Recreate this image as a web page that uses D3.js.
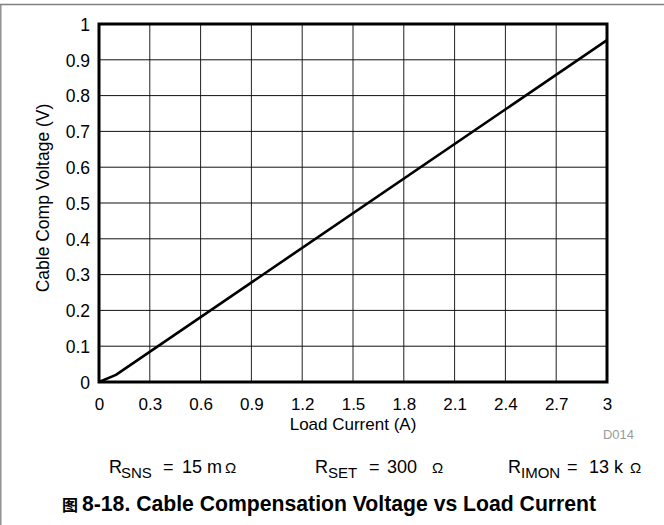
<!DOCTYPE html>
<html>
<head>
<meta charset="utf-8">
<script src="https://cdn.jsdelivr.net/npm/d3@7"></script>
<style>
  html, body { margin: 0; padding: 0; background: #fff; }
  svg { display: block; }
  text { font-family: "Liberation Sans", Arial, sans-serif; fill: #000; }
</style>
</head>
<body>
<svg id="chart" width="664" height="525"></svg>
<script>
// ---- data ----
const loadCurrent = [0, 0.1, 3];            // A
const compVoltage = [0, 0.02, 0.955];       // V
const xTicks = [0, 0.3, 0.6, 0.9, 1.2, 1.5, 1.8, 2.1, 2.4, 2.7, 3];
const yTicks = [0, 0.1, 0.2, 0.3, 0.4, 0.5, 0.6, 0.7, 0.8, 0.9, 1];
const xTitle = "Load Current (A)";
const yTitle = "Cable Comp Voltage (V)";
const figId = "D014";
const condMain = ["R", "R", "R"];
const condSub = ["SNS", "SET", "IMON"];
const condValue = ["15 m", "300", "13 k"];
const condUnit = ["Ω", "Ω", "Ω"];
const captionPrefix = "图";
const caption = "8-18. Cable Compensation Voltage vs Load Current";

// ---- layout ----
const svg = d3.select("#chart");
const W = 664, H = 525;
const plot = { left: 99, right: 607, top: 24, bottom: 382 };

const x = d3.scaleLinear().domain([0, 3]).range([plot.left, plot.right]);
const y = d3.scaleLinear().domain([0, 1]).range([plot.bottom, plot.top]);

// outer frame lines (top and left)
svg.append("line").attr("x1", 0).attr("x2", W).attr("y1", 4.5).attr("y2", 4.5)
  .attr("stroke", "#808080").attr("stroke-width", 1.3);
svg.append("line").attr("x1", 0.8).attr("x2", 0.8).attr("y1", 4).attr("y2", H)
  .attr("stroke", "#808080").attr("stroke-width", 1.3);

// grid
const grid = svg.append("g");
grid.selectAll(".vg").data(xTicks.slice(1, -1)).enter().append("line")
  .attr("x1", d => x(d)).attr("x2", d => x(d))
  .attr("y1", plot.top).attr("y2", plot.bottom)
  .attr("stroke", "#222").attr("stroke-width", 1);
grid.selectAll(".hg").data(yTicks.slice(1, -1)).enter().append("line")
  .attr("x1", plot.left).attr("x2", plot.right)
  .attr("y1", d => y(d)).attr("y2", d => y(d))
  .attr("stroke", "#111").attr("stroke-width", 1);

// axes (labels only)
const fmt = d => String(+d.toFixed(1));
const xAxis = d3.axisBottom(x).tickValues(xTicks).tickSize(0).tickPadding(0).tickFormat(fmt);
const gx = svg.append("g").attr("transform", `translate(0,${plot.bottom})`).call(xAxis);
gx.select(".domain").remove();
gx.selectAll("text").attr("font-size", 17).attr("font-family", "Liberation Sans, Arial, sans-serif")
  .attr("dy", null).attr("y", 28).attr("fill", "#000");

const yAxis = d3.axisLeft(y).tickValues(yTicks).tickSize(0).tickPadding(0).tickFormat(fmt);
const gy = svg.append("g").attr("transform", `translate(${plot.left},0)`).call(yAxis);
gy.select(".domain").remove();
gy.selectAll("text").attr("font-size", 17.5).attr("font-family", "Liberation Sans, Arial, sans-serif")
  .attr("x", -9).attr("dy", "0.36em").attr("fill", "#000");

// data line
const pts = loadCurrent.map((c, i) => [c, compVoltage[i]]);
svg.append("path").datum(pts)
  .attr("d", d3.line().x(d => x(d[0])).y(d => y(d[1])))
  .attr("fill", "none").attr("stroke", "#000").attr("stroke-width", 2.6)
  .attr("stroke-linejoin", "round");

// plot frame
svg.append("rect").attr("x", plot.left).attr("y", plot.top)
  .attr("width", plot.right - plot.left).attr("height", plot.bottom - plot.top)
  .attr("fill", "none").attr("stroke", "#000").attr("stroke-width", 3);

// axis titles
svg.append("text").attr("x", (plot.left + plot.right) / 2).attr("y", 430)
  .attr("text-anchor", "middle").attr("font-size", 17).text(xTitle);
svg.append("text").attr("transform", "translate(49,198) rotate(-90)")
  .attr("text-anchor", "middle").attr("font-size", 17.5).text(yTitle);

// figure id
svg.append("text").attr("x", 634).attr("y", 439).attr("text-anchor", "end")
  .attr("font-size", 13).style("fill", "#9a9a9a").text(figId);

// conditions (segment x positions)
const condPos = [
  { r: 109, s: 121, eq: 163, v: 182, u: 225 },
  { r: 315, s: 328, eq: 369, v: 387, u: 432 },
  { r: 508, s: 521, eq: 567, v: 589, u: 630 }
];
condMain.forEach((m, i) => {
  const p = condPos[i];
  const t = svg.append("text").attr("y", 473).attr("font-size", 18);
  t.append("tspan").attr("x", p.r).text(m);
  t.append("tspan").attr("x", p.s).attr("font-size", 15).attr("dy", 5).text(condSub[i]);
  t.append("tspan").attr("x", p.eq).attr("dy", -5).text("=");
  t.append("tspan").attr("x", p.v).text(condValue[i]);
  t.append("tspan").attr("x", p.u).attr("font-size", 15).text(condUnit[i]);
});

// caption
svg.append("text").attr("x", 62).attr("y", 511).attr("font-size", 16)
  .attr("font-weight", "bold")
  .style("font-family", "'Noto Sans CJK SC', sans-serif").text(captionPrefix);
svg.append("text").attr("x", 82).attr("y", 511).attr("font-size", 21.2)
  .attr("font-weight", "bold").text(caption);
</script>
</body>
</html>
